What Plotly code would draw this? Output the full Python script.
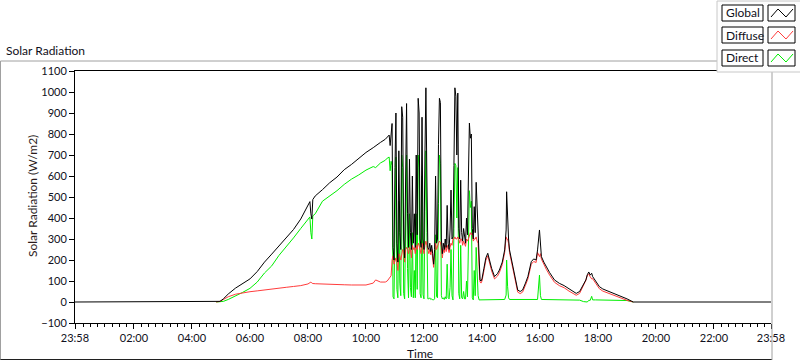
import plotly.graph_objects as go

# ---------------- data ----------------
times = [
    "04:50","04:58","05:05","05:15","05:30","05:45","06:00","06:15","06:30","06:45",
    "07:00","07:15","07:30","07:45","08:00","08:04","08:06","08:08","08:10","08:15",
    "08:30","08:45","09:00","09:15","09:30","09:45","10:00","10:15","10:20","10:30",
    "10:40","10:44","10:48","10:50","10:52","10:54","10:56","10:58","11:00","11:02",
    "11:04","11:06","11:08","11:10","11:12","11:14","11:16","11:18","11:20","11:22",
    "11:24","11:26","11:28","11:30","11:32","11:34","11:36","11:38","11:40","11:42",
    "11:44","11:46","11:48","11:50","11:52","11:54","11:56","11:58","12:00","12:02",
    "12:04","12:06","12:08","12:10","12:12","12:14","12:16","12:18","12:20","12:22",
    "12:24","12:26","12:28","12:30","12:32","12:34","12:36","12:38","12:40","12:42",
    "12:44","12:46","12:48","12:50","12:52","12:54","12:56","12:58","13:00","13:02",
    "13:04","13:06","13:08","13:10","13:12","13:14","13:16","13:18","13:20","13:22",
    "13:24","13:26","13:28","13:30","13:32","13:34","13:36","13:38","13:40","13:42",
    "13:44","13:46","13:48","13:50","13:52","13:54","13:56","13:58","14:00",
    "14:04","14:08","14:12","14:16","14:20","14:26","14:32","14:36","14:42","14:47",
    "14:50","14:51","14:53","14:55","14:57","15:04","15:10","15:14","15:19","15:24",
    "15:30","15:35","15:42","15:47","15:52","15:55","15:59","16:01","16:03","16:08",
    "16:13","16:20","16:30","16:40","16:50","17:00","17:08","17:15","17:22","17:30",
    "17:35","17:38","17:41","17:44","17:47","17:49","17:55","18:03","18:10","18:24",
    "18:35","18:51","19:00","19:13",
]

global_wm2 = [
    0,3,15,38,66,90,110,145,190,228,
    268,305,345,395,455,478,420,395,488,505,
    535,568,595,630,655,685,712,735,742,760,
    775,785,795,745,790,850,260,200,640,900,
    280,190,720,330,250,930,880,300,210,600,
    945,420,260,680,330,250,600,280,420,260,
    700,320,970,900,300,260,880,300,250,700,
    1020,600,260,250,280,240,270,230,180,250,
    600,280,300,750,970,950,300,230,280,250,
    300,260,460,280,250,343,533,300,310,650,
    1020,980,700,995,350,300,580,330,290,350,
    300,280,400,320,600,852,780,800,350,300,
    454,330,570,454,310,180,105,100,110,
    160,210,232,190,160,121,135,152,190,248,
    343,525,375,300,248,168,100,57,50,57,
    90,121,192,205,200,248,343,260,216,190,
    168,140,105,89,78,62,50,41,50,80,
    105,130,143,128,137,121,100,73,62,49,
    38,25,15,0,
]

diffuse_wm2 = [
    0,3,12,25,37,44,49,53,58,62,
    66,70,74,78,86,92,95,90,88,87,
    85,84,83,82,81,81,81,90,105,95,
    95,100,110,118,125,200,220,180,200,210,
    190,150,230,220,200,240,250,240,190,250,
    260,250,230,260,250,210,270,250,260,230,
    270,250,280,270,250,230,280,255,230,270,
    290,270,240,230,250,225,250,215,165,230,
    280,250,270,280,290,285,260,210,250,235,
    270,240,270,255,235,260,280,270,300,300,
    310,300,300,310,300,280,300,300,270,290,
    280,265,300,290,300,320,330,320,330,290,
    300,300,310,290,280,170,95,90,100,
    148,198,220,178,148,110,123,140,178,236,
    310,300,300,280,236,156,90,47,40,47,
    80,110,180,193,188,236,216,230,204,178,
    156,128,94,78,68,52,41,32,41,75,
    103,128,133,120,110,111,90,63,52,39,
    28,15,8,0,
]

direct_wm2 = [
    0,0,3,12,28,46,65,95,138,172,
    222,262,305,350,395,405,330,300,410,420,
    480,505,530,560,585,605,628,645,640,662,
    675,685,690,625,670,650,25,15,440,690,
    60,20,480,90,30,700,640,40,15,350,
    700,160,20,420,70,25,330,20,150,20,
    420,60,700,640,40,20,600,35,15,430,
    720,330,15,15,20,12,15,10,10,15,
    320,25,20,470,700,660,30,15,20,12,
    25,15,180,20,15,70,250,30,10,350,
    660,650,400,640,40,15,270,20,15,50,
    15,15,100,25,300,530,450,480,20,10,
    150,30,260,160,30,10,10,10,10,
    12,12,12,12,12,11,12,12,12,12,
    33,200,75,20,12,12,10,10,10,10,
    10,11,12,12,12,12,128,30,12,12,
    12,12,11,11,10,10,9,9,9,2,
    0,0,8,8,27,10,10,10,10,10,
    10,10,7,0,
]

# Global is logged all day; night values are zero
night_before = 0
night_after = 0

x_tick_hours = [-2/60, 2, 4, 6, 8, 10, 12, 14, 16, 18, 20, 22, 24 - 2/60]
x_tick_labels = ["23:58", "02:00", "04:00", "06:00", "08:00", "10:00", "12:00",
                 "14:00", "16:00", "18:00", "20:00", "22:00", "23:58"]
y_ticks = list(range(-100, 1101, 100))

series_names = ["Global", "Diffuse", "Direct"]
series_colors = ["#000000", "#ff3c3c", "#00ee00"]

# ---------------- helpers ----------------
def to_hours(s):
    h, m = s.split(":")
    return int(h) + int(m) / 60.0

hours = [to_hours(t) for t in times]
X0, X1 = x_tick_hours[0], x_tick_hours[-1]

L, R, T, B = 75, 771, 71, 323
def px(x):
    return (x - L) / (R - L)
def py(y):
    return (B - y) / (B - T)

FONT = "Lato"
TXT = "#101020"

fig = go.Figure()
fig.add_trace(go.Scatter(x=hours, y=direct_wm2, mode="lines", name="Direct",
                         line=dict(color=series_colors[2], width=1), showlegend=False))
fig.add_trace(go.Scatter(x=hours, y=diffuse_wm2, mode="lines", name="Diffuse",
                         line=dict(color=series_colors[1], width=1), showlegend=False))
fig.add_trace(go.Scatter(x=[X0] + hours + [X1],
                         y=[night_before] + global_wm2 + [night_after],
                         mode="lines", name="Global",
                         line=dict(color=series_colors[0], width=1), showlegend=False))

shapes = []
# outer panel frame
shapes.append(dict(type="line", xref="paper", yref="paper", x0=px(0.5), x1=px(772), y0=py(61), y1=py(61),
                   line=dict(color="#a0a0a0", width=1)))
shapes.append(dict(type="line", xref="paper", yref="paper", x0=px(0.5), x1=px(0.5), y0=py(61), y1=py(360),
                   line=dict(color="#a0a0a0", width=1)))
shapes.append(dict(type="line", xref="paper", yref="paper", x0=px(0.5), x1=px(772), y0=py(359.5), y1=py(359.5),
                   line=dict(color="#202020", width=1)))
shapes.append(dict(type="line", xref="paper", yref="paper", x0=px(772), x1=px(772), y0=py(61), y1=py(360),
                   line=dict(color="#a0a0a0", width=1)))
# legend panel
shapes.append(dict(type="rect", xref="paper", yref="paper", x0=px(717), x1=px(801), y0=py(1), y1=py(72),
                   line=dict(color="#c8c8c8", width=1), fillcolor="#fdfdfd"))
annotations = []
rows = [(5, 21), (27, 43), (50, 66)]
for (y0, y1), name, col in zip(rows, series_names, series_colors):
    shapes.append(dict(type="rect", xref="paper", yref="paper", x0=px(722), x1=px(763), y0=py(y0), y1=py(y1),
                       line=dict(color="#000000", width=1), fillcolor="#ffffff"))
    shapes.append(dict(type="rect", xref="paper", yref="paper", x0=px(768), x1=px(795), y0=py(y0), y1=py(y1),
                       line=dict(color="#000000", width=1), fillcolor="#ffffff"))
    pts = [(771, y1 - 4), (778, y0 + 4), (786, y1 - 4), (793, y0 + 4)]
    path = "M " + " L ".join(f"{px(a):.5f},{py(b):.5f}" for a, b in pts)
    shapes.append(dict(type="path", xref="paper", yref="paper", path=path,
                       line=dict(color=col, width=1)))
    annotations.append(dict(xref="paper", yref="paper", x=px(724), y=py((y0 + y1) / 2),
                            xanchor="left", yanchor="middle", text=name, showarrow=False,
                            font=dict(family=FONT, size=12, color=TXT)))

annotations.append(dict(xref="paper", yref="paper", x=px(4), y=py(50), xanchor="left", yanchor="middle",
                        text="Solar Radiation", showarrow=False, font=dict(family=FONT, size=12, color=TXT)))
annotations.append(dict(xref="paper", yref="paper", x=px(32), y=py(196), xanchor="center", yanchor="middle",
                        text="Solar Radiation (W/m2)", textangle=-90, showarrow=False,
                        font=dict(family=FONT, size=12, color="#2a1a1a")))
annotations.append(dict(xref="paper", yref="paper", x=px(420), y=py(353), xanchor="center", yanchor="middle",
                        text="Time", showarrow=False, font=dict(family=FONT, size=12, color=TXT)))

fig.update_layout(
    width=800, height=361,
    margin=dict(l=L, r=800 - R, t=T, b=361 - B, pad=0),
    paper_bgcolor="#ffffff", plot_bgcolor="#ffffff",
    shapes=shapes, annotations=annotations, showlegend=False,
    xaxis=dict(range=[X0, X1], tickmode="array", tickvals=x_tick_hours, ticktext=x_tick_labels,
               ticks="outside", ticklen=5, tickcolor="#000", showline=True, linecolor="#000",
               linewidth=1, mirror=True, showgrid=False, zeroline=False,
               tickfont=dict(family=FONT, size=11, color=TXT),
               minor=dict(ticks="outside", ticklen=3, dtick=0.25, tick0=0, tickcolor="#000", showgrid=False)),
    yaxis=dict(range=[-100, 1100], tickmode="array", tickvals=y_ticks,
               ticks="outside", ticklen=5, tickcolor="#000", showline=True, linecolor="#000",
               linewidth=1, showgrid=False, zeroline=False,
               tickfont=dict(family=FONT, size=11, color=TXT)),
)

fig.write_html("out.html", config={"displayModeBar": False},
               post_script="document.body.style.margin='0';document.body.style.overflow='hidden';")
